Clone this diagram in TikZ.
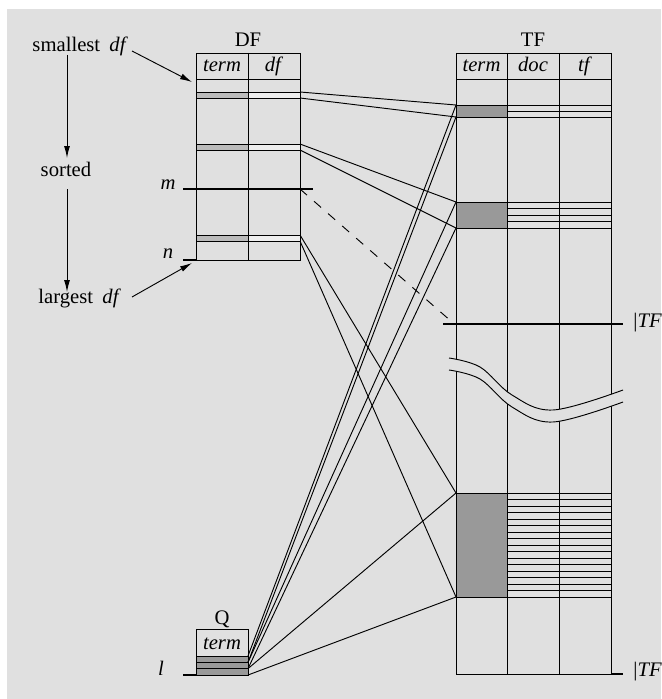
\documentclass[tikz,border=0pt]{standalone}
\usepackage{fontspec}
\setmainfont{Liberation Serif}
\usetikzlibrary{arrows.meta}
\definecolor{bg}{HTML}{E0E0E0}
\definecolor{lightsh}{HTML}{BBBBBB}
\definecolor{darksh}{HTML}{999999}
\definecolor{cellw}{HTML}{EEEEEE}
\begin{document}
\begin{tikzpicture}[x=0.75pt,y=-0.75pt,line width=0.7pt,
  txt/.style={font=\fontsize{15.5}{18}\selectfont,inner sep=0pt,anchor=base},
  thickln/.style={line width=1.9pt},
  conn/.style={line width=0.7pt},
  arr/.style={-{Latex[length=9pt,width=4.5pt]}},
  tbl/.style={line width=0.7pt}]
\useasboundingbox (0,0) rectangle (661,699);
\fill[white] (0,0) rectangle (661,699);
\fill[bg] (7,9) rectangle (661,699);

% ---------- DF table ----------
\foreach \a/\b in {92/98,144/150,235/241}{
  \fill[lightsh] (196,\a) rectangle (248,\b);
  \fill[cellw] (248,\a) rectangle (300,\b);
  \draw[tbl] (196,\a) -- (300,\a);
  \draw[tbl] (196,\b) -- (300,\b);
}
\draw[tbl] (196,53) rectangle (300,260);
\draw[tbl] (196,79) -- (300,79);
\draw[tbl] (248,53) -- (248,260);

% ---------- TF table ----------
\fill[darksh] (456,105) rectangle (507,117);
\fill[darksh] (456,202) rectangle (507,228);
\fill[darksh] (456,493) rectangle (507,597);
\foreach \y in {105,111,117,202,208.5,215,221.5,228}
  \draw[tbl] (507,\y) -- (611,\y);
\foreach \i in {0,...,16}
  \draw[tbl] (507,493+6.5*\i) -- (611,493+6.5*\i);
\foreach \y in {105,117,202,228,493,597}
  \draw[tbl] (456,\y) -- (507,\y);
\foreach \x in {456,507,559,611}
  \draw[tbl] (\x,53) -- (\x,674);
\draw[tbl] (456,53) -- (611,53);
\draw[tbl] (456,79) -- (611,79);
\draw[tbl] (456,674) -- (611,674);

% break band
\fill[bg] plot[smooth,tension=0.6] coordinates {(449,358) (480,367) (512,395) (553,410) (623,390)}
  -- plot[smooth,tension=0.6] coordinates {(623,402) (553,422) (512,407) (480,379) (449,370)} -- cycle;
\draw plot[smooth,tension=0.6] coordinates {(449,358) (480,367) (512,395) (553,410) (623,390)};
\draw plot[smooth,tension=0.6] coordinates {(449,370) (480,379) (512,407) (553,422) (623,402)};

% ---------- Q table ----------
\fill[darksh] (196,656) rectangle (248,675);
\draw[tbl] (196,629) rectangle (248,675);
\foreach \y in {656,662.3,668.6}
  \draw[tbl] (196,\y) -- (248,\y);

% ---------- anchor coordinates ----------
\coordinate (d1t) at (300,92);  \coordinate (d1b) at (300,98);
\coordinate (d2t) at (300,144); \coordinate (d2b) at (300,150);
\coordinate (d3t) at (300,235); \coordinate (d3b) at (300,241);
\coordinate (dm) at (300,189);
\coordinate (t1t) at (456,105); \coordinate (t1b) at (456,117);
\coordinate (t2t) at (456,202); \coordinate (t2b) at (456,228);
\coordinate (t3t) at (456,493); \coordinate (t3b) at (456,597);
\coordinate (tm) at (452,322);
\coordinate (q1t) at (248,656); \coordinate (q1b) at (248,662.3);
\coordinate (q2t) at (248,662.3); \coordinate (q2b) at (248,668.6);
\coordinate (q3t) at (248,668.6); \coordinate (q3b) at (248,675);

% ---------- connectors ----------
\draw[conn] (d1t) -- (t1t);
\draw[conn] (d1b) -- (t1b);
\draw[conn] (d2t) -- (t2t);
\draw[conn] (d2b) -- (t2b);
\draw[conn] (d3t) -- (t3t);
\draw[conn] (d3b) -- (t3b);
\draw[conn,dash pattern=on 7pt off 7pt] (dm) -- (tm);
\draw[conn] (q1t) -- (t1t);
\draw[conn] (q1b) -- (t1b);
\draw[conn] (q2t) -- (t2t);
\draw[conn] (q2b) -- (t2b);
\draw[conn] (q3t) -- (t3t);
\draw[conn] (q3b) -- (t3b);

% ---------- thick marks ----------
\coordinate (mL) at (183,189); \coordinate (mR) at (313,189);
\draw[thickln] (mL) -- (mR);
\coordinate (nL) at (183,260); \coordinate (nR) at (196,260);
\draw[thickln] (nL) -- (nR);
\coordinate (lL) at (183,675); \coordinate (lR) at (196,675);
\draw[thickln] (lL) -- (lR);
\coordinate (tfL) at (443,324); \coordinate (tfR) at (623,324);
\draw[thickln] (tfL) -- (tfR);
\coordinate (tbL) at (611,674); \coordinate (tbR) at (623,674);
\draw[thickln] (tbL) -- (tbR);

% ---------- texts ----------
\node[txt] (dftitle) at (248,47) {DF};
\node[txt] (tftitle) at (533,47) {TF};
\node[txt] (qtitle) at (222,624) {Q};
\node[txt] (dfh1) at (222,72) {\textit{term}};
\node[txt] (dfh2) at (274,72) {\textit{df}};
\node[txt] (tfh1) at (481.5,72) {\textit{term}};
\node[txt] (tfh2) at (533,72) {\textit{doc}};
\node[txt] (tfh3) at (585,72) {\textit{tf}};
\node[txt] (qh) at (222,649) {\textit{term}};
\node[txt] (mlab) at (168,189) {\textit{m}};
\node[txt] (nlab) at (168,258) {\textit{n}};
\node[txt] (llab) at (161,675) {\textit{l}};
\node[txt,anchor=base west] (tflab1) at (633,327) {|\textit{TF}};
\node[txt,anchor=base west] (tflab2) at (633,676) {|\textit{TF}};
\node[txt,anchor=base west] (smallest) at (32,52) {smallest\hspace{0.45em}\textit{df}};
\node[txt] (sorted) at (66,176) {sorted};
\node[txt,anchor=base west] (largest) at (38,303) {largest\hspace{0.45em}\textit{df}};

% ---------- arrows ----------
\coordinate (sa1) at (132,51); \coordinate (sa2) at (192,82);
\draw[arr] (sa1) -- (sa2);
\coordinate (la1) at (132,297); \coordinate (la2) at (192,263);
\draw[arr] (la1) -- (la2);
\coordinate (v1) at (67,55); \coordinate (v2) at (67,158);
\draw[arr] (v1) -- (v2);
\coordinate (v3) at (67,189); \coordinate (v4) at (67,292);
\draw[arr] (v3) -- (v4);
\end{tikzpicture}
\end{document}
